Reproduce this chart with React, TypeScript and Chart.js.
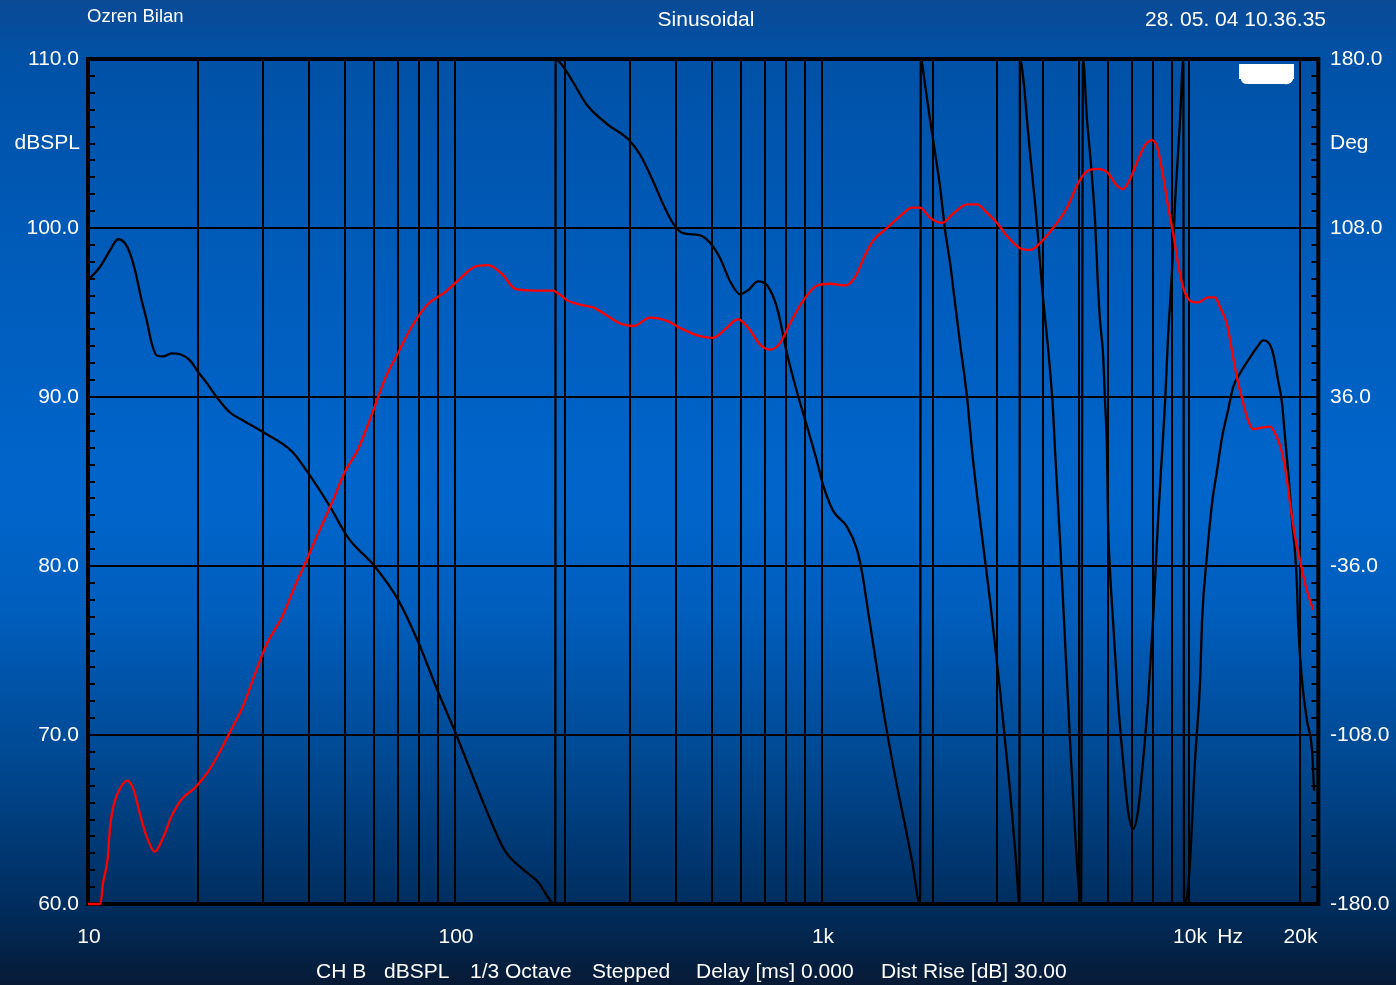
import React, { useEffect, useRef } from "react";
import { Chart, registerables } from "chart.js";

Chart.register(...registerables);

// Vertical grid positions (Hz) and the labelled frequencies
const X_GRID = [10, 20, 30, 40, 50, 60, 70, 80, 90, 100, 200, 300, 400, 500, 600, 700, 800, 900, 1000, 2000, 3000, 4000, 5000, 6000, 7000, 8000, 9000, 10000, 20000];
const X_LABEL_VALUES = [10, 100, 1000, 10000, 20000];
const X_LABEL_TEXT = ["10", "100", "1k", "10k", "20k"];

// Left axis (SPL) and right axis (phase) labels
const LEFT_VALUES = [110, 100, 90, 80, 70, 60];
const RIGHT_VALUES = [180, 108, 36, -36, -108, -180];

// SPL magnitude response, dB SPL
const SPL_FREQ = [10, 10.8, 11.0, 11.3, 11.5, 11.8, 12.2, 12.8, 13.3, 13.9,
  14.5, 15.2, 16.0, 16.9, 18.0, 19.6, 21.2, 22.6, 24.4, 26.5,
  28.5, 30.7, 33.8, 36.6, 39.5, 42.3, 46.2, 50.2, 54.4, 59.4,
  64.5, 69.5, 76.4, 84.4, 93.9, 102, 113, 123, 134, 146,
  165, 184, 203, 226, 238, 260, 282, 306, 340, 378,
  418, 465, 505, 544, 590, 629, 678, 722, 769, 818,
  888, 969, 1051, 1155, 1230, 1310, 1377, 1503, 1632, 1759,
  1849, 1970, 2123, 2275, 2484, 2644, 2816, 2998, 3213, 3464,
  3688, 3926, 4260, 4651, 4984, 5306, 5649, 5978, 6366, 6609,
  6905, 7215, 7587, 7929, 8183, 8497, 8767, 9046, 9333, 9632,
  10063, 10580, 11270, 11770, 12150, 12690, 13100, 13520, 13950, 14390,
  14940, 15910, 16620, 17370, 17920, 18490, 18850, 19450, 20070, 20710, 21770];
const SPL_DB = [60.0, 60.0, 61.3, 62.6, 64.7, 66.0, 66.8, 67.3, 66.8, 65.2,
  63.9, 63.1, 63.9, 65.2, 66.2, 66.9, 67.8, 68.8, 70.2, 71.75,
  73.6, 75.4, 77.0, 78.8, 80.4, 81.9, 83.75, 85.6, 86.9, 89.0,
  91.1, 92.5, 94.2, 95.5, 96.2, 96.9, 97.7, 97.8, 97.3, 96.4,
  96.3, 96.3, 95.7, 95.4, 95.3, 94.8, 94.35, 94.2, 94.7, 94.5,
  94.0, 93.6, 93.5, 94.0, 94.6, 94.1, 93.1, 92.8, 93.2, 94.35,
  95.7, 96.6, 96.7, 96.6, 97.1, 98.4, 99.25, 100.0, 100.7, 101.2,
  101.2, 100.6, 100.3, 100.85, 101.4, 101.4, 100.9, 100.3, 99.45, 98.8,
  98.7, 99.1, 100.0, 101.2, 102.65, 103.4, 103.5, 103.3, 102.5, 102.3,
  102.9, 103.9, 104.9, 105.2, 104.8, 103.1, 101.3, 99.7, 97.9, 96.5,
  95.7, 95.6, 95.9, 95.9, 95.3, 94.3, 92.7, 91.1, 89.9, 88.8,
  88.1, 88.2, 88.25, 87.6, 86.7, 85.1, 83.7, 81.7, 80.3, 78.95, 77.4];

// Wrapped phase response, degrees (jumps between +180 and -180 are kept as data)
const PHASE_FREQ = [10.06, 10.78, 11.48, 12.07, 12.61, 13.01, 13.43, 14.0, 14.45, 14.91,
  15.39, 16.04, 16.91, 17.81, 18.96, 19.82, 21.1, 22.46, 24.37, 26.45,
  29.79, 35.96, 39.52, 45.64, 51.1, 60.53, 69.93, 79.27, 89.9, 100,
  120.7, 136.8, 152.3, 168.3, 187.5, 188, 197, 209.6, 228.9, 259.6,
  296, 319.2, 346.3, 368.8, 392.6, 418.1, 465.2, 495.3, 527.5, 561.6,
  597.7, 628.5, 669.4, 708.3, 754.2, 802.9, 855, 910.2, 969.1, 1006,
  1071, 1169, 1245, 1285, 1334, 1394, 1485, 1581, 1684, 1759,
  1850, 1858, 1909, 1970, 2033, 2097, 2164, 2233, 2304, 2377,
  2484, 2563, 2695, 2870, 3055, 3253, 3378, 3450, 3460, 3551,
  3619, 3688, 3805, 3878, 3976, 4102, 4181, 4260, 4314, 4451,
  4593, 4739, 4890, 5080, 5140, 5272, 5372, 5543, 5649, 5720,
  5828, 5902, 5978, 6015, 6091, 6207, 6404, 6609, 6820, 7037,
  7261, 7493, 7732, 7978, 8232, 8441, 8601, 8765, 8988, 9159,
  9333, 9450, 9650, 9690, 9876, 10063, 10380, 10720, 10850, 11200,
  11550, 11920, 12300, 12770, 13180, 13770, 14480, 15320, 15910, 16420,
  16940, 17480, 17920, 18260, 18610, 19080, 19450, 19690, 19810, 20320,
  20960, 21640, 21910];
const PHASE_DEG = [86.2, 91.4, 98.5, 103.2, 101.5, 97.3, 90.0, 77.2, 68.7, 58.9,
  53.7, 53.3, 54.6, 54.2, 51.6, 47.3, 41.8, 35.8, 29.4, 26.0,
  21.3, 12.8, 4.3, -10.7, -23.9, -36.3, -50.3, -68.2, -89.6, -106.6,
  -138.6, -157.4, -164.9, -170.6, -180, 180, 176.8, 170.2, 160.4, 152.3,
  145.9, 139.3, 128.0, 118.2, 110.0, 105.8, 104.9, 101.7, 95.1, 85.3,
  79.8, 81.5, 85.3, 83.6, 74.0, 54.4, 38.0, 23.5, 8.5, -1.3,
  -12.4, -19.2, -29.0, -38.6, -55.0, -74.2, -101.9, -125.4, -146.7, -161.7,
  -180, 180, 168.9, 154.0, 139.9, 125.4, 107.1, 93.0, 75.9, 58.9,
  35.8, 13.2, -16.6, -50.8, -89.1, -131.8, -161.7, -180, 180, 168.9,
  154.0, 139.9, 118.6, 104.1, 82.7, 61.4, 47.3, 30.3, 13.2, -25.2,
  -67.8, -110.5, -148.9, -180, 180, 154.0, 139.9, 111.3, 82.7, 68.7,
  54.6, 34.5, 11.9, -16.6, -38.0, -59.3, -93.4, -119.0, -140.3, -148.0,
  -140.3, -119.0, -93.4, -59.3, -16.6, 11.9, 33.3, 61.4, 90.0, 118.6,
  139.9, 154.0, 180, -180, -176.6, -161.7, -119.0, -84.9, -59.3, -30.7,
  -9.4, 4.7, 18.8, 30.3, 40.1, 46.1, 51.6, 57.2, 60.1, 59.3,
  54.6, 43.1, 33.3, 18.8, 4.7, -16.6, -30.7, -45.2, -59.3, -84.9,
  -101.9, -114.7, -131.8];

const FOOTER_ITEMS = ["CH B", "dBSPL", "1/3 Octave", "Stepped", "Delay [ms] 0.000", "Dist Rise [dB] 30.00"];
const FOOTER_X = [316, 384, 470, 592, 696, 881];

const FONT = "'Liberation Sans', Arial, Helvetica, sans-serif";
const W = 1396;
const H = 985;

const backgroundPlugin = {
  id: "pageBackground",
  beforeDraw(chart: any) {
    const { ctx } = chart;
    const g = ctx.createLinearGradient(0, 0, 0, H);
    g.addColorStop(0.0, "#0b4a95");
    g.addColorStop(0.06, "#0051a6");
    g.addColorStop(0.3, "#005dbd");
    g.addColorStop(0.5, "#0065cb");
    g.addColorStop(0.62, "#005ebd");
    g.addColorStop(0.78, "#00478f");
    g.addColorStop(0.92, "#002d5e");
    g.addColorStop(1.0, "#071a35");
    ctx.save();
    ctx.fillStyle = g;
    ctx.fillRect(0, 0, W, H);
    ctx.restore();
  },
};

const framePlugin = {
  id: "plotFrame",
  beforeDatasetsDraw(chart: any) {
    const { ctx, chartArea: a, scales } = chart;
    const y = scales.y;
    ctx.save();
    ctx.strokeStyle = "#000";
    ctx.lineWidth = 2;
    for (let v = 61; v < 110; v++) {
      if (v % 10 === 0) continue;
      const py = Math.round(y.getPixelForValue(v));
      ctx.beginPath();
      ctx.moveTo(a.left, py);
      ctx.lineTo(a.left + 7, py);
      ctx.moveTo(a.right, py);
      ctx.lineTo(a.right - 7, py);
      ctx.stroke();
    }
    ctx.lineWidth = 4;
    ctx.strokeRect(a.left, a.top, a.right - a.left, a.bottom - a.top);
    ctx.restore();
  },
};

const labelPlugin = {
  id: "chartText",
  afterDraw(chart: any) {
    const { ctx, scales } = chart;
    const x = scales.x;
    const y = scales.y;
    const y1 = scales.y1;
    ctx.save();
    ctx.fillStyle = "#ffffff";
    ctx.textBaseline = "middle";

    ctx.font = `18.5px ${FONT}`;
    ctx.textAlign = "left";
    ctx.fillText("Ozren Bilan", 87, 17);
    ctx.font = `21px ${FONT}`;
    ctx.textAlign = "center";
    ctx.fillText("Sinusoidal", 706, 20);
    ctx.textAlign = "right";
    ctx.fillText("28. 05. 04 10.36.35", 1326, 20);

    ctx.textAlign = "right";
    LEFT_VALUES.forEach((v) => ctx.fillText(v.toFixed(1), 79, y.getPixelForValue(v)));
    ctx.fillText("dBSPL", 80, y.getPixelForValue(105));

    ctx.textAlign = "left";
    RIGHT_VALUES.forEach((v) => ctx.fillText(v.toFixed(1), 1330, y1.getPixelForValue(v)));
    ctx.fillText("Deg", 1330, y1.getPixelForValue(144));

    ctx.textAlign = "center";
    X_LABEL_VALUES.forEach((v, i) => ctx.fillText(X_LABEL_TEXT[i], x.getPixelForValue(v) + 1, 937));
    ctx.fillText("Hz", x.getPixelForValue(10000) + 41, 937);

    ctx.textAlign = "left";
    FOOTER_ITEMS.forEach((t, i) => ctx.fillText(t, FOOTER_X[i], 972));

    // white badge in the upper right corner of the plot
    ctx.fillRect(1239, 64, 55, 15);
    ctx.beginPath();
    ctx.moveTo(1241, 79);
    ctx.lineTo(1293, 79);
    ctx.quadraticCurveTo(1292, 85, 1284, 84);
    ctx.lineTo(1248, 84);
    ctx.quadraticCurveTo(1241, 84, 1241, 79);
    ctx.fill();
    ctx.restore();
  },
};

export default function App() {
  const ref = useRef<HTMLCanvasElement | null>(null);

  useEffect(() => {
    const canvas = ref.current;
    if (!canvas) return;
    const splData = SPL_FREQ.map((f, i) => ({ x: f, y: SPL_DB[i] }));
    const phaseData = PHASE_FREQ.map((f, i) => ({ x: f, y: PHASE_DEG[i] }));
    const grid = { color: "#000000", lineWidth: 2, drawTicks: false };
    const chart = new Chart(canvas, {
      type: "line",
      data: {
        datasets: [
          {
            label: "dBSPL",
            data: splData,
            yAxisID: "y",
            borderColor: "#ff0000",
            borderWidth: 2.3,
            pointRadius: 0,
            cubicInterpolationMode: "monotone",
            clip: false,
            order: 0,
          },
          {
            label: "Deg",
            data: phaseData,
            yAxisID: "y1",
            borderColor: "#000000",
            borderWidth: 2.3,
            pointRadius: 0,
            cubicInterpolationMode: "monotone",
            clip: false,
            order: 1,
          },
        ],
      },
      options: {
        responsive: false,
        animation: false,
        devicePixelRatio: 1,
        layout: { padding: { left: 88, right: W - 1318.3, top: 59, bottom: H - 904 } },
        plugins: { legend: { display: false }, tooltip: { enabled: false } },
        scales: {
          x: {
            type: "logarithmic",
            min: 10,
            max: 22500,
            afterBuildTicks: (s: any) => {
              s.ticks = X_GRID.map((v) => ({ value: v }));
            },
            afterFit: (s: any) => {
              s.height = 0;
            },
            ticks: { display: false },
            grid,
            border: { display: false },
          },
          y: {
            type: "linear",
            position: "left",
            min: 60,
            max: 110,
            ticks: { display: false, stepSize: 10 },
            afterFit: (s: any) => {
              s.width = 0;
            },
            grid,
            border: { display: false },
          },
          y1: {
            type: "linear",
            position: "right",
            min: -180,
            max: 180,
            ticks: { display: false },
            afterFit: (s: any) => {
              s.width = 0;
            },
            grid: { display: false },
            border: { display: false },
          },
        },
      },
      plugins: [backgroundPlugin, framePlugin, labelPlugin],
    } as any);
    return () => chart.destroy();
  }, []);

  return (
    <div style={{ position: "fixed", left: 0, top: 0, width: W, height: H }}>
      <canvas ref={ref} width={W} height={H} style={{ display: "block", width: W, height: H }} />
    </div>
  );
}
